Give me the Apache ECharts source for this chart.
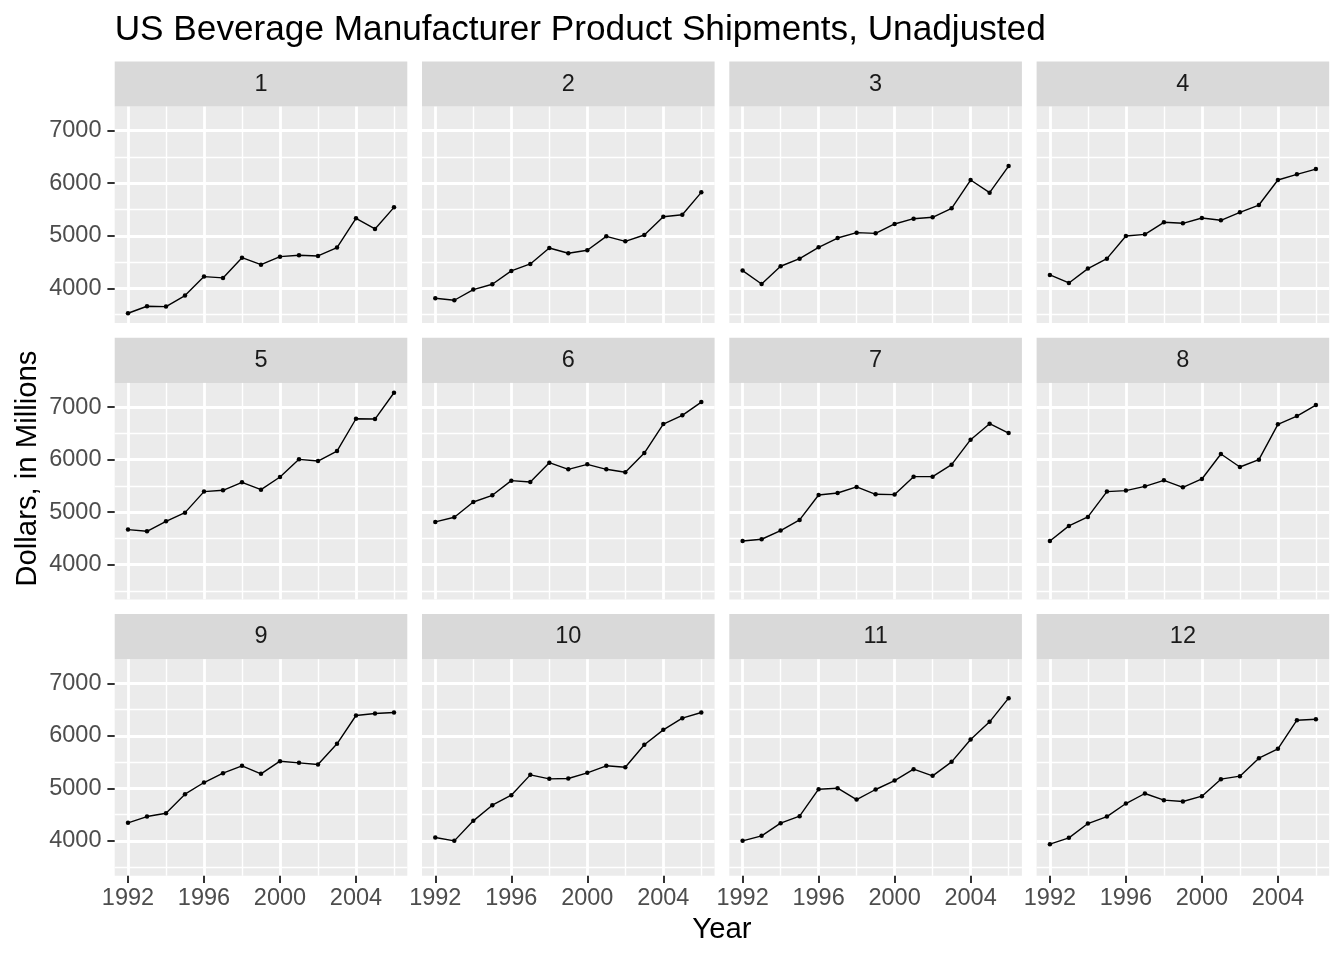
<!DOCTYPE html>
<html>
<head>
<meta charset="utf-8">
<script src="https://cdn.jsdelivr.net/npm/echarts@6/dist/echarts.min.js"></script>
<style>
html,body{margin:0;padding:0;background:#fff;}
#chart{width:1344px;height:960px;}
</style>
</head>
<body>
<div id="chart"></div>
<script>
// ---- data ----
const years = [1992,1993,1994,1995,1996,1997,1998,1999,2000,2001,2002,2003,2004,2005,2006];
const panelLabels = ['1','2','3','4','5','6','7','8','9','10','11','12'];
const m1  = [3524,3658,3651,3860,4222,4197,4583,4450,4602,4628,4615,4774,5332,5129,5541];
const m2  = [3810,3772,3975,4076,4330,4463,4767,4666,4723,4989,4894,5015,5363,5401,5826];
const m3  = [4336,4082,4419,4564,4780,4957,5059,5046,5224,5325,5351,5522,6061,5820,6327];
const m4  = [4254,4101,4374,4564,4996,5027,5256,5237,5338,5294,5446,5585,6061,6169,6270];
const m5  = [4666,4634,4824,4989,5389,5414,5566,5427,5668,6004,5972,6162,6777,6771,7272];
const m6  = [4812,4900,5192,5319,5598,5573,5940,5814,5909,5814,5757,6124,6676,6841,7094];
const m7  = [4450,4482,4647,4850,5325,5363,5478,5338,5332,5674,5674,5902,6378,6682,6505];
const m8  = [4450,4736,4907,5389,5408,5490,5604,5471,5630,6105,5858,5997,6670,6828,7037];
const m9  = [4343,4463,4527,4889,5111,5289,5429,5276,5517,5486,5454,5848,6387,6425,6444];
const m10 = [4063,4000,4381,4679,4870,5257,5181,5187,5295,5429,5403,5829,6114,6337,6444];
const m11 = [4000,4095,4337,4470,4984,5003,4787,4978,5149,5365,5238,5505,5930,6267,6717];
const m12 = [3937,4057,4330,4463,4711,4902,4775,4749,4851,5175,5232,5575,5752,6298,6317];
const xTicks = [1992,1996,2000,2004];
const xMinor = [1994,1998,2002,2006];
const yTicks = [4000,5000,6000,7000];
const yMinor = [3500,4500,5500,6500,7500];
const titleText = 'US Beverage Manufacturer Product Shipments, Unadjusted';
const xTitle = 'Year';
const yTitle = 'Dollars, in Millions';

const series12 = [m1,m2,m3,m4,m5,m6,m7,m8,m9,m10,m11,m12];

// ---- scales (ggplot-style 5% expansion) ----
const allVals = series12.flat();
const yLo = Math.min(...allVals), yHi = Math.max(...allVals);
const yMin = yLo - 0.05*(yHi-yLo), yMax = yHi + 0.05*(yHi-yLo);
const xLo = Math.min(...years), xHi = Math.max(...years);
const xMin = xLo - 0.05*(xHi-xLo), xMax = xHi + 0.05*(xHi-xLo);

// ---- layout ----
const L0 = 114.7, PW = 292.6, GAP = 14.7;
const T0 = 106.6, PH = 216.5, STRIP = 45.1;
const ROWSTEP = PH + STRIP + GAP;
const FONT = '"Liberation Sans", Arial, Helvetica, sans-serif';

const grids = [], xAxes = [], yAxes = [], series = [], graphics = [];

series12.forEach((vals, i) => {
  const col = i % 4, row = Math.floor(i / 4);
  const left = L0 + col*(PW+GAP);
  const top = T0 + row*ROWSTEP;
  grids.push({left, top, width: PW, height: PH, show: true, backgroundColor: '#EBEBEB',
              borderWidth: 0, containLabel: false, outerBoundsMode: 'none'});
  // minor x axis
  xAxes.push({type:'value', gridIndex:i, min:xMin, max:xMax, position:'top',
    axisLine:{show:false}, axisLabel:{show:false, customValues:xMinor},
    axisTick:{show:false, customValues:xMinor},
    splitLine:{show:true, lineStyle:{color:'#FFFFFF', width:1.4}}});
  // major x axis
  xAxes.push({type:'value', gridIndex:i, min:xMin, max:xMax, position:'bottom',
    axisLine:{show:false},
    axisTick:{show: row===2, customValues:xTicks, inside:false, length:7.3, lineStyle:{color:'#333333', width:2}},
    axisLabel:{show: row===2, customValues:xTicks, margin:11, color:'#4D4D4D', fontSize:23.5, fontFamily:FONT,
               formatter: v => String(v)},
    splitLine:{show:true, lineStyle:{color:'#FFFFFF', width:2.8}}});
  // minor y axis
  yAxes.push({type:'value', gridIndex:i, min:yMin, max:yMax, position:'right',
    axisLine:{show:false}, axisLabel:{show:false, customValues:yMinor},
    axisTick:{show:false, customValues:yMinor},
    splitLine:{show:true, lineStyle:{color:'#FFFFFF', width:1.4}}});
  // major y axis
  yAxes.push({type:'value', gridIndex:i, min:yMin, max:yMax, position:'left',
    axisLine:{show:false},
    axisTick:{show: col===0, customValues:yTicks, inside:false, length:7.3, lineStyle:{color:'#333333', width:2}},
    axisLabel:{show: col===0, customValues:yTicks, margin:13.2, color:'#4D4D4D', fontSize:23.5, fontFamily:FONT,
               formatter: v => String(v)},
    splitLine:{show:true, lineStyle:{color:'#FFFFFF', width:2.8}}});
  series.push({type:'line', xAxisIndex:2*i+1, yAxisIndex:2*i+1,
    data: years.map((y, k) => [y, vals[k]]),
    symbol:'circle', symbolSize:4.5, showSymbol:true,
    itemStyle:{color:'#000000'}, lineStyle:{color:'#000000', width:1.4},
    emphasis:{disabled:true}, silent:true, animation:false, z:5});
  // strip
  graphics.push({type:'rect', shape:{x:left, y:top-STRIP, width:PW, height:STRIP},
    style:{fill:'#D9D9D9'}, silent:true});
  graphics.push({type:'text', x:left+PW/2, y:top-STRIP/2,
    style:{text:panelLabels[i], fill:'#1A1A1A', fontSize:23.5, fontFamily:FONT,
           align:'center', verticalAlign:'middle', textAlign:'center', textVerticalAlign:'middle'}, silent:true});
});

graphics.push({type:'text', x:L0, y:30,
  style:{text:titleText, fill:'#000000', fontSize:35.2, fontFamily:FONT,
         align:'left', verticalAlign:'middle', textAlign:'left', textVerticalAlign:'middle'}});
graphics.push({type:'text', x:(L0 + L0 + 4*PW + 3*GAP)/2, y:930,
  style:{text:xTitle, fill:'#000000', fontSize:29.3, fontFamily:FONT,
         align:'center', verticalAlign:'middle', textAlign:'center', textVerticalAlign:'middle'}});
graphics.push({type:'text', x:28, y:(T0 - STRIP + T0 + 2*ROWSTEP + PH)/2, rotation:Math.PI/2,
  style:{text:yTitle, fill:'#000000', fontSize:29.3, fontFamily:FONT,
         align:'center', verticalAlign:'middle', textAlign:'center', textVerticalAlign:'middle'}});

const chart = echarts.init(document.getElementById('chart'), null, {renderer:'canvas'});
chart.setOption({
  animation:false,
  backgroundColor:'#FFFFFF',
  grid:grids, xAxis:xAxes, yAxis:yAxes, series,
  graphic:{elements:graphics}
});
</script>
</body>
</html>
